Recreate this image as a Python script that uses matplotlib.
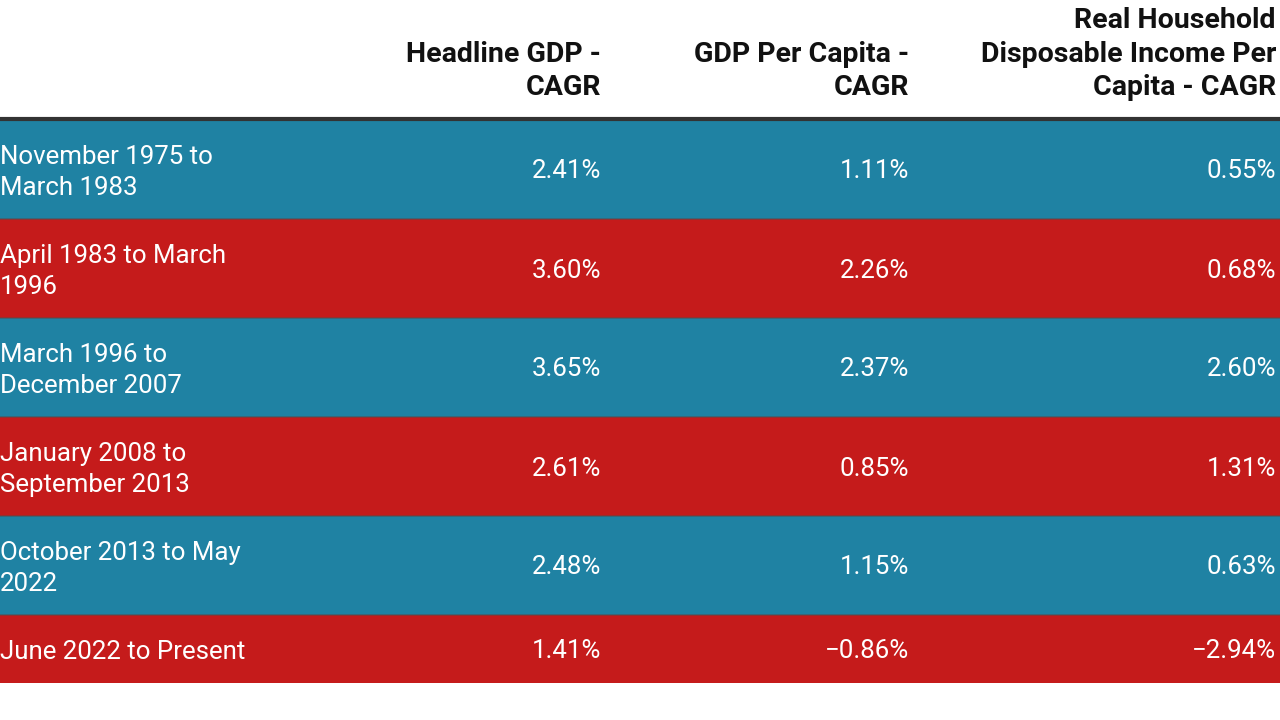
import matplotlib
matplotlib.use("Agg")
import matplotlib.pyplot as plt

plt.rcParams['font.family'] = ['Roboto', 'DejaVu Sans']

periods = [
    "November 1975 to\nMarch 1983",
    "April 1983 to March\n1996",
    "March 1996 to\nDecember 2007",
    "January 2008 to\nSeptember 2013",
    "October 2013 to May\n2022",
    "June 2022 to Present",
]
headline_gdp = [2.41, 3.60, 3.65, 2.61, 2.48, 1.41]
gdp_per_capita = [1.11, 2.26, 2.37, 0.85, 1.15, -0.86]
rhdi_per_capita = [0.55, 0.68, 2.60, 1.31, 0.63, -2.94]
column_headers = [
    "Headline GDP -\nCAGR",
    "GDP Per Capita -\nCAGR",
    "Real Household\nDisposable Income Per\nCapita - CAGR",
]
row_colors = ["#1f82a3", "#c51b1b"]

W, H = 1280, 720
fig = plt.figure(figsize=(12.8, 7.2), dpi=100)
ax = fig.add_axes([0, 0, 1, 1])
ax.set_xlim(0, W)
ax.set_ylim(H, 0)
ax.axis('off')

top = 120
tall = 99
short = 68
col_right = [601, 909, 1276]

def fmt(v):
    s = f"{abs(v):.2f}%"
    return ("\u2212" + s) if v < 0 else s

y = top
series = [headline_gdp, gdp_per_capita, rhdi_per_capita]
for i, label in enumerate(periods):
    h = tall if "\n" in label else short
    ax.barh(y + h / 2, W, height=h, left=0, color=row_colors[i % 2],
            edgecolor='none', zorder=1)
    if i > 0:
        ax.plot([0, W], [y, y], color='#5a4a4a', lw=1.2, alpha=0.6, zorder=2)
    cy = y + h / 2 + 2
    ax.text(0, cy + 1, label, ha='left', va='center', color='white',
            fontsize=18.6, linespacing=1.32, zorder=3)
    for xr, s in zip(col_right, series):
        ax.text(xr, cy, fmt(s[i]), ha='right', va='center', color='white',
                fontsize=18.6, zorder=3)
    y += h

ax.plot([0, W], [top - 1, top - 1], color='#333333', lw=3, zorder=4,
        solid_capstyle='butt')

for xr, hdr in zip(col_right, column_headers):
    ax.text(xr, 101, hdr, ha='right', va='bottom', color='#111111',
            fontsize=20.5, fontweight='bold', linespacing=1.3, zorder=3)

fig.savefig("out.png", dpi=100, facecolor='white')
